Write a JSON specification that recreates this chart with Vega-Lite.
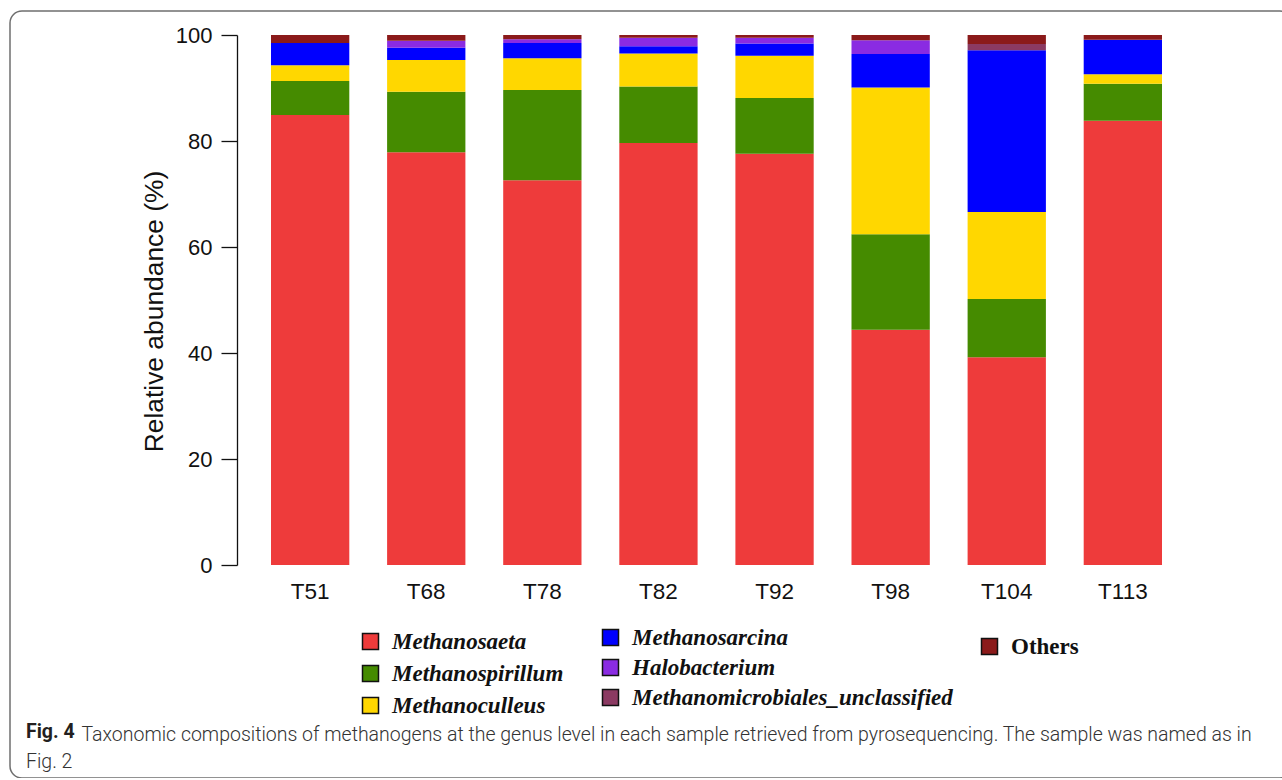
{
  "$schema": "https://vega.github.io/schema/vega-lite/v6.json",
  "width": 1282,
  "height": 767,
  "autosize": {"type": "none"},
  "padding": {"left": 10, "top": 11, "right": 0, "bottom": 0},
  "background": "white",
  "config": {
    "view": {"stroke": "#6f6f6f", "strokeWidth": 1.5, "cornerRadius": 12},
    "legend": {
      "orient": "none",
      "direction": "vertical",
      "title": null,
      "symbolType": "square",
      "symbolSize": 256,
      "symbolStrokeColor": "#111111",
      "symbolStrokeWidth": 1.5,
      "symbolOpacity": 1,
      "labelFont": "Liberation Serif",
      "labelFontSize": 23,
      "labelFontWeight": "bold",
      "labelFontStyle": "italic",
      "labelColor": "#111111",
      "labelOffset": 10,
      "labelLimit": 500
    }
  },
  "title": {
    "text": "Fig. 4",
    "subtitle": "Fig. 2",
    "orient": "bottom",
    "anchor": "start",
    "frame": "group",
    "offset": -55,
    "dx": 16,
    "font": "Roboto",
    "fontSize": 19.5,
    "fontWeight": "bold",
    "color": "#231f20",
    "subtitleFont": "Roboto",
    "subtitleFontSize": 19.5,
    "subtitleFontWeight": 300,
    "subtitleColor": "#333333",
    "subtitlePadding": 10
  },
  "data": {
    "values": [
      {"sample": "T51", "genus": "Methanosaeta", "abundance": 84.9},
      {"sample": "T51", "genus": "Methanospirillum", "abundance": 6.4},
      {"sample": "T51", "genus": "Methanoculleus", "abundance": 3.0},
      {"sample": "T51", "genus": "Methanosarcina", "abundance": 4.2},
      {"sample": "T51", "genus": "Halobacterium", "abundance": 0.0},
      {"sample": "T51", "genus": "Methanomicrobiales_unclassified", "abundance": 0.0},
      {"sample": "T51", "genus": "Others", "abundance": 1.5},

      {"sample": "T68", "genus": "Methanosaeta", "abundance": 77.9},
      {"sample": "T68", "genus": "Methanospirillum", "abundance": 11.4},
      {"sample": "T68", "genus": "Methanoculleus", "abundance": 6.0},
      {"sample": "T68", "genus": "Methanosarcina", "abundance": 2.3},
      {"sample": "T68", "genus": "Halobacterium", "abundance": 1.3},
      {"sample": "T68", "genus": "Methanomicrobiales_unclassified", "abundance": 0.0},
      {"sample": "T68", "genus": "Others", "abundance": 1.1},

      {"sample": "T78", "genus": "Methanosaeta", "abundance": 72.6},
      {"sample": "T78", "genus": "Methanospirillum", "abundance": 17.0},
      {"sample": "T78", "genus": "Methanoculleus", "abundance": 6.0},
      {"sample": "T78", "genus": "Methanosarcina", "abundance": 2.9},
      {"sample": "T78", "genus": "Halobacterium", "abundance": 0.7},
      {"sample": "T78", "genus": "Methanomicrobiales_unclassified", "abundance": 0.0},
      {"sample": "T78", "genus": "Others", "abundance": 0.8},

      {"sample": "T82", "genus": "Methanosaeta", "abundance": 79.6},
      {"sample": "T82", "genus": "Methanospirillum", "abundance": 10.7},
      {"sample": "T82", "genus": "Methanoculleus", "abundance": 6.2},
      {"sample": "T82", "genus": "Methanosarcina", "abundance": 1.4},
      {"sample": "T82", "genus": "Halobacterium", "abundance": 1.6},
      {"sample": "T82", "genus": "Methanomicrobiales_unclassified", "abundance": 0.0},
      {"sample": "T82", "genus": "Others", "abundance": 0.5},

      {"sample": "T92", "genus": "Methanosaeta", "abundance": 77.6},
      {"sample": "T92", "genus": "Methanospirillum", "abundance": 10.5},
      {"sample": "T92", "genus": "Methanoculleus", "abundance": 8.0},
      {"sample": "T92", "genus": "Methanosarcina", "abundance": 2.3},
      {"sample": "T92", "genus": "Halobacterium", "abundance": 1.1},
      {"sample": "T92", "genus": "Methanomicrobiales_unclassified", "abundance": 0.0},
      {"sample": "T92", "genus": "Others", "abundance": 0.5},

      {"sample": "T98", "genus": "Methanosaeta", "abundance": 44.4},
      {"sample": "T98", "genus": "Methanospirillum", "abundance": 18.0},
      {"sample": "T98", "genus": "Methanoculleus", "abundance": 27.7},
      {"sample": "T98", "genus": "Methanosarcina", "abundance": 6.3},
      {"sample": "T98", "genus": "Halobacterium", "abundance": 2.6},
      {"sample": "T98", "genus": "Methanomicrobiales_unclassified", "abundance": 0.0},
      {"sample": "T98", "genus": "Others", "abundance": 1.0},

      {"sample": "T104", "genus": "Methanosaeta", "abundance": 39.2},
      {"sample": "T104", "genus": "Methanospirillum", "abundance": 11.0},
      {"sample": "T104", "genus": "Methanoculleus", "abundance": 16.4},
      {"sample": "T104", "genus": "Methanosarcina", "abundance": 30.5},
      {"sample": "T104", "genus": "Halobacterium", "abundance": 0.0},
      {"sample": "T104", "genus": "Methanomicrobiales_unclassified", "abundance": 1.2},
      {"sample": "T104", "genus": "Others", "abundance": 1.7},

      {"sample": "T113", "genus": "Methanosaeta", "abundance": 83.8},
      {"sample": "T113", "genus": "Methanospirillum", "abundance": 7.0},
      {"sample": "T113", "genus": "Methanoculleus", "abundance": 1.8},
      {"sample": "T113", "genus": "Methanosarcina", "abundance": 6.5},
      {"sample": "T113", "genus": "Halobacterium", "abundance": 0.0},
      {"sample": "T113", "genus": "Methanomicrobiales_unclassified", "abundance": 0.0},
      {"sample": "T113", "genus": "Others", "abundance": 0.9}
    ]
  },
  "transform": [
    {"calculate": "indexof(['Methanosaeta','Methanospirillum','Methanoculleus','Methanosarcina','Halobacterium','Methanomicrobiales_unclassified','Others'], datum.genus)", "as": "stackOrder"},
    {"stack": "abundance", "groupby": ["sample"], "sort": [{"field": "stackOrder", "order": "ascending"}], "as": ["lower", "upper"]}
  ],
  "encoding": {
    "x": {
      "field": "sample",
      "type": "nominal",
      "sort": ["T51", "T68", "T78", "T82", "T92", "T98", "T104", "T113"],
      "scale": {"range": [261, 1152], "paddingInner": 0.3256, "paddingOuter": 0},
      "axis": {
        "orient": "bottom",
        "offset": -213,
        "domain": false,
        "ticks": false,
        "labelAngle": 0,
        "labelFont": "Liberation Sans",
        "labelFontSize": 22.5,
        "labelColor": "#111111",
        "labelPadding": 15,
        "title": "Taxonomic compositions of methanogens at the genus level in each sample retrieved from pyrosequencing. The sample was named as in",
        "titleX": 71,
        "titleY": 175,
        "titleAlign": "left",
        "titleAnchor": "start",
        "titleBaseline": "alphabetic",
        "titleFont": "Roboto",
        "titleFontSize": 19.5,
        "titleFontWeight": 300,
        "titleColor": "#333333"
      }
    },
    "y": {
      "field": "lower",
      "type": "quantitative",
      "scale": {"domain": [0, 100], "range": [554, 24], "nice": false, "zero": false},
      "axis": {
        "orient": "left",
        "offset": -227,
        "values": [0, 20, 40, 60, 80, 100],
        "grid": false,
        "domainColor": "#111111",
        "domainWidth": 1.3,
        "tickColor": "#111111",
        "tickWidth": 1.3,
        "tickSize": 16,
        "labelFont": "Liberation Sans",
        "labelFontSize": 22,
        "labelColor": "#111111",
        "labelPadding": 9,
        "title": "Relative abundance (%)",
        "titleFont": "Liberation Sans",
        "titleFontSize": 26.4,
        "titleFontWeight": "normal",
        "titleColor": "#111111",
        "titlePadding": 7,
        "titleY": 300
      }
    },
    "y2": {"field": "upper"}
  },
  "layer": [
    {
      "transform": [{"filter": "indexof(['Methanosaeta','Methanospirillum','Methanoculleus'], datum.genus) >= 0"}],
      "mark": {"type": "bar"},
      "encoding": {
        "color": {
          "field": "genus",
          "type": "nominal",
          "scale": {"domain": ["Methanosaeta", "Methanospirillum", "Methanoculleus"], "range": ["#EE3B3B", "#458B00", "#FFD700"]},
          "legend": {"legendX": 349, "legendY": 619, "rowPadding": 8}
        }
      }
    },
    {
      "transform": [{"filter": "indexof(['Methanosarcina','Halobacterium','Methanomicrobiales_unclassified'], datum.genus) >= 0"}],
      "mark": {"type": "bar"},
      "encoding": {
        "color": {
          "field": "genus",
          "type": "nominal",
          "scale": {"domain": ["Methanosarcina", "Halobacterium", "Methanomicrobiales_unclassified"], "range": ["#0000FF", "#8A2BE2", "#8B3A62"]},
          "legend": {"legendX": 589, "legendY": 615, "rowPadding": 6}
        }
      }
    },
    {
      "transform": [{"filter": "datum.genus === 'Others'"}],
      "mark": {"type": "bar"},
      "encoding": {
        "color": {
          "field": "genus",
          "type": "nominal",
          "scale": {"domain": ["Others"], "range": ["#8B1A1A"]},
          "legend": {"legendX": 968, "legendY": 624, "labelFontStyle": "normal"}
        }
      }
    }
  ],
  "resolve": {"scale": {"color": "independent"}}
}
